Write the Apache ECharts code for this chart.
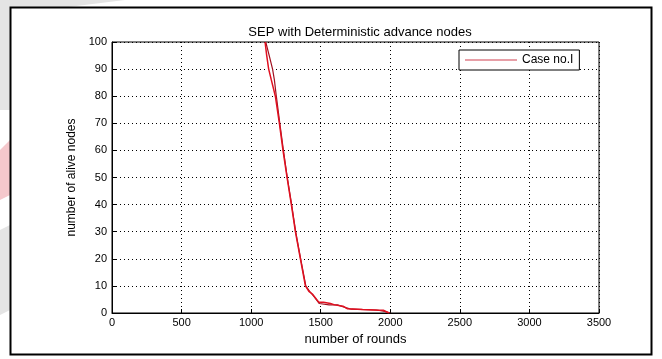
<!DOCTYPE html>
<html>
<head>
<meta charset="utf-8">
<script src="https://cdn.jsdelivr.net/npm/echarts@6/dist/echarts.min.js"></script>
<style>
  html, body { margin: 0; padding: 0; background: #fff; }
  #chart { width: 662px; height: 359px; }
</style>
</head>
<body>
<div id="chart"></div>
<script>
// rounds vs alive nodes
const caseOne = [
  [1100, 100], [1112, 95], [1126, 90], [1145, 86], [1174, 80], [1203, 70],
  [1229, 60], [1258, 50], [1289, 40], [1318, 30], [1354, 20], [1390, 10],
  [1415, 8], [1440, 7], [1486, 4], [1520, 4], [1570, 3.5], [1600, 3],
  [1660, 2.5], [1690, 1.6], [1800, 1.3], [1920, 1], [1950, 1], [1990, 0]
];
const caseOneRun2 = [
  [1105, 100], [1130, 95], [1154, 90], [1167, 86], [1181, 80], [1206, 70],
  [1232, 60], [1260, 50], [1291, 40], [1320, 30], [1356, 20], [1393, 10],
  [1420, 8], [1445, 6.5], [1490, 3.5], [1560, 3], [1620, 3], [1680, 2],
  [1720, 1.4], [1900, 1.1], [1960, 0.6], [2000, 0]
];
const xTicks = [0, 3500, 500];
const yTicks = [0, 100, 10];

const chart = echarts.init(document.getElementById('chart'));
const font = 'Liberation Sans, Arial, sans-serif';
const dotted = { show: true, lineStyle: { color: '#000', type: [1, 3], width: 1 } };
const plain = (v) => String(v);

chart.setOption({
  animation: false,
  backgroundColor: '#fff',
  graphic: [
    // faint watermark shapes behind the figure frame
    { type: 'polygon', shape: { points: [[0, 0], [125, 0], [60, 8], [10, 110], [0, 110]] },
      style: { fill: '#e4e4e4' }, z: -1 },
    { type: 'polygon', shape: { points: [[0, 150], [10, 140], [10, 195], [0, 200]] },
      style: { fill: '#f5c8cc' }, z: -1 },
    { type: 'polygon', shape: { points: [[0, 230], [10, 225], [10, 310], [0, 315]] },
      style: { fill: '#e4e4e4' }, z: -1 },
    { type: 'rect', shape: { x: 10.5, y: 7.5, width: 641, height: 347 },
      style: { fill: '#fff', stroke: '#000', lineWidth: 2 }, z: -1 }
  ],
  title: {
    text: 'SEP with Deterministic advance nodes',
    left: 355, top: 21, textAlign: 'center',
    textStyle: { fontFamily: font, fontSize: 13, fontWeight: 'normal', color: '#000' }
  },
  legend: {
    data: ['Case no.I'],
    left: 459, top: 50,
    orient: 'vertical',
    itemWidth: 52, itemHeight: 10, itemGap: 0,
    padding: [4, 6, 4, 6],
    borderColor: '#000', borderWidth: 1, backgroundColor: '#fff',
    icon: 'path://M0,5L52,5L52,6L0,6Z',
    textStyle: { fontFamily: font, fontSize: 12, color: '#000' }
  },
  grid: { left: 112, right: 63, top: 42, bottom: 46, show: true,
    borderColor: '#000', borderWidth: 1, backgroundColor: 'transparent' },
  xAxis: {
    type: 'value', min: xTicks[0], max: xTicks[1], interval: xTicks[2],
    name: 'number of rounds', nameLocation: 'middle', nameGap: 20,
    nameTextStyle: { fontFamily: font, fontSize: 13, color: '#000' },
    axisLine: { lineStyle: { color: '#000' } },
    axisTick: { inside: true, length: 4, lineStyle: { color: '#000' } },
    axisLabel: { fontFamily: font, fontSize: 11, color: '#000', margin: 4, formatter: plain },
    splitLine: dotted
  },
  yAxis: {
    type: 'value', min: yTicks[0], max: yTicks[1], interval: yTicks[2],
    name: 'number of alive nodes', nameLocation: 'middle', nameGap: 32,
    nameTextStyle: { fontFamily: font, fontSize: 12, color: '#000' },
    axisLine: { show: true, lineStyle: { color: '#000' } },
    axisTick: { show: true, inside: true, length: 4, lineStyle: { color: '#000' } },
    axisLabel: { fontFamily: font, fontSize: 11, color: '#000', margin: 5, formatter: plain },
    splitLine: dotted
  },
  series: [{
    name: 'Case no.I (run 2)', type: 'line', data: caseOneRun2,
    showSymbol: false, lineStyle: { color: '#a01020', width: 1.2 }, itemStyle: { color: '#a01020' }
  }, {
    name: 'Case no.I', type: 'line', data: caseOne,
    showSymbol: false, lineStyle: { color: '#e01020', width: 1.5 }, itemStyle: { color: '#d04050' }
  }]
});
</script>
</body>
</html>
